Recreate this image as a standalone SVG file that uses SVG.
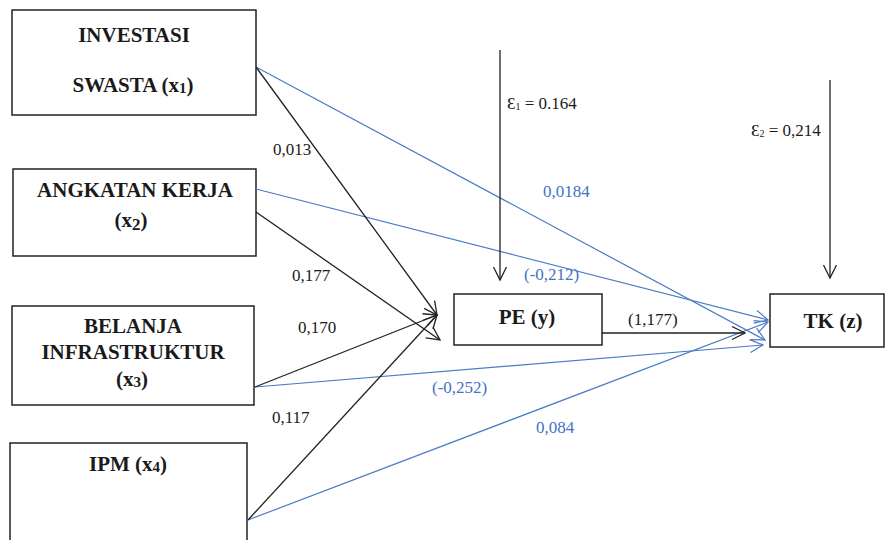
<svg xmlns="http://www.w3.org/2000/svg" width="886" height="540" viewBox="0 0 886 540">
<style>
.box{fill:#fff;stroke:#222;stroke-width:1.5}
text{font-family:'Liberation Serif','Times New Roman','DejaVu Serif',serif}
.t{font-weight:bold;font-size:21px;fill:#1a1a1a;text-anchor:middle}
.lb{font-size:17px;fill:#1a1a1a}
.lbb{font-size:17px;fill:#4472c4}
.k{fill:none;stroke:#222;stroke-width:1.3}
.b{fill:none;stroke:#4a7cc4;stroke-width:1.2}
</style>
<defs>
<marker id="ak" viewBox="-14 -8 16 16" refX="0" refY="0" markerWidth="16" markerHeight="16" markerUnits="userSpaceOnUse" orient="auto"><path d="M-13,-6.5 L0,0 L-13,6.5" fill="none" stroke="#222" stroke-width="1.3"/></marker>
<marker id="abl" viewBox="-14 -8 16 16" refX="0" refY="0" markerWidth="16" markerHeight="16" markerUnits="userSpaceOnUse" orient="auto"><path d="M-13,-6.5 L0,0 L-13,6.5" fill="none" stroke="#4a7cc4" stroke-width="1.2"/></marker>
</defs>

<g id="x1">
<rect class="box" x="12" y="10" width="244" height="105"/>
<text class="t" x="134" y="42" font-family="Liberation Serif, serif">INVESTASI</text>
<text class="t" x="133" y="92" font-family="Liberation Serif, serif">SWASTA (x<tspan font-size="15" dy="1">1</tspan><tspan dy="-1">)</tspan></text>
</g>
<g id="x2">
<rect class="box" x="13" y="169" width="243" height="87"/>
<text class="t" x="135" y="197" font-family="Liberation Serif, serif">ANGKATAN KERJA</text>
<text class="t" x="131" y="227" font-size="24" font-family="Liberation Serif, serif">(x<tspan font-size="17" dy="3">2</tspan><tspan dy="-3">)</tspan></text>
</g>
<g id="x3">
<rect class="box" x="12" y="306" width="242" height="99"/>
<text class="t" x="133" y="333" font-family="Liberation Serif, serif">BELANJA</text>
<text class="t" x="133" y="359" font-family="Liberation Serif, serif">INFRASTRUKTUR</text>
<text class="t" x="132" y="386" font-family="Liberation Serif, serif">(x<tspan font-size="15" dy="1">3</tspan><tspan dy="-1">)</tspan></text>
</g>
<g id="x4">
<rect class="box" x="10" y="443" width="237" height="110"/>
<text class="t" x="128" y="471" font-family="Liberation Serif, serif">IPM (x<tspan font-size="15" dy="1">4</tspan><tspan dy="-1">)</tspan></text>
</g>
<g id="pe">
<rect class="box" x="454" y="294" width="148" height="51"/>
<text class="t" x="527" y="324" font-family="Liberation Serif, serif">PE (y)</text>
</g>
<g id="tk">
<rect class="box" x="770" y="294" width="114" height="53"/>
<text class="t" x="833" y="328" font-family="Liberation Serif, serif">TK (z)</text>
</g>

<g id="connectors">
<path class="b" d="M256,67 L765,340" marker-end="url(#abl)"/>
<path class="b" d="M256,189 L768,320" marker-end="url(#abl)"/>
<path class="b" d="M255,387 L763,345" marker-end="url(#abl)"/>
<path class="b" d="M248,520 L768,322" marker-end="url(#abl)"/>
<path class="k" d="M256,67 L437,315" marker-end="url(#ak)"/>
<path class="k" d="M256,212 L440,340" marker-end="url(#ak)"/>
<path class="k" d="M255,387 L437,315" marker-end="url(#ak)"/>
<path class="k" d="M248,520 L437,315" marker-end="url(#ak)"/>
<path class="k" d="M602,333 L745,333" marker-end="url(#ak)"/>
<path class="k" d="M500,50 L500,280" marker-end="url(#ak)"/>
<path class="k" d="M830,80 L830,278" marker-end="url(#ak)"/>
</g>

<g id="labels" font-family="Liberation Serif, serif">
<text class="lb" x="273" y="155">0,013</text>
<text class="lb" x="292" y="281">0,177</text>
<text class="lb" x="298" y="333">0,170</text>
<text class="lb" x="272" y="423">0,117</text>
<text class="lb" x="628" y="325">(1,177)</text>
<text class="lbb" x="543" y="197">0,0184</text>
<text class="lbb" x="524" y="280">(-0,212)</text>
<text class="lbb" x="432" y="393">(-0,252)</text>
<text class="lbb" x="536" y="433">0,084</text>
<text class="lb" x="507" y="109">Ɛ<tspan font-size="10" dy="1">1</tspan><tspan dy="-1"> = 0.164</tspan></text>
<text class="lb" x="751" y="136">Ɛ<tspan font-size="10" dy="1">2</tspan><tspan dy="-1"> = 0,214</tspan></text>
</g>
</svg>
